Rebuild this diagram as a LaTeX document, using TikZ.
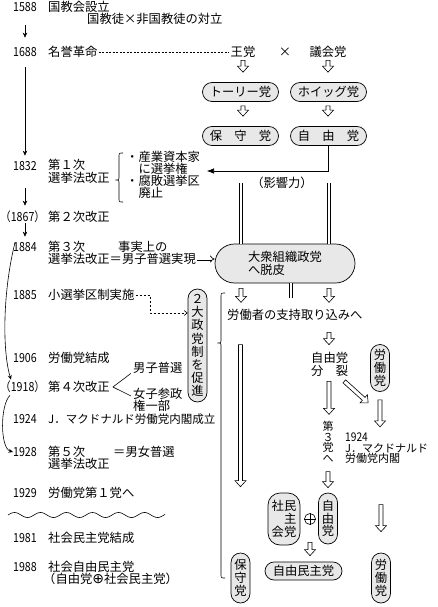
\documentclass[tikz,border=0pt]{standalone}
\usepackage{fontspec}
\setmainfont{Noto Sans CJK JP}
\newfontfamily\dejavufont{DejaVu Sans}
\newfontfamily\yrfont[FakeStretch=0.85]{Noto Sans CJK JP}
\usetikzlibrary{calc,arrows.meta}

\newcommand\hollowarr[2]{%
  \coordinate (ha) at #1;
  \coordinate (hb) at #2;
  \coordinate (hh) at ($(hb)!6pt!(ha)$);
  \draw[harrow] ($(ha)!2pt!90:(hb)$) -- ($(hh)!2pt!90:(hb)$) -- ($(hh)!5.5pt!90:(hb)$) -- (hb) -- ($(hh)!5.5pt!-90:(hb)$) -- ($(hh)!2pt!-90:(hb)$) -- ($(ha)!2pt!-90:(hb)$) -- cycle;}

\newcommand\vbrace[4]{%
  \draw[ln] (#1+4,#2) .. controls (#1,#2) .. (#1,#2+4) -- (#1,#3-4) .. controls (#1,#3) .. (#1-3.5,#3) .. controls (#1,#3) .. (#1,#3+4) -- (#1,#4-4) .. controls (#1,#4) .. (#1+4,#4);}

\begin{document}
\begin{tikzpicture}[x=1pt,y=-1pt,
  ln/.style={line width=0.6pt},
  tl/.style={line width=0.6pt,-{Stealth[length=5pt,width=4.5pt]}},
  txt/.style={inner sep=0pt,anchor=west,text height=10.8pt,text depth=1.5pt,font=\fontsize{12.3}{13}\selectfont},
  yr/.style={txt,font=\yrfont\fontsize{12.5}{13}\selectfont},
  rtxt/.style={txt,font=\fontsize{11}{11}\selectfont},
  mtxt/.style={inner sep=0pt,align=left,font=\fontsize{12.3}{12}\selectfont},
  pillbase/.style={draw,line width=0.7pt,fill=gray!18,inner sep=0pt},
  hpill/.style={pillbase,rounded corners=9.5pt,minimum width=76pt,minimum height=19pt,font=\fontsize{12.3}{13}\selectfont},
  vpill/.style={pillbase,rounded corners=9.5pt,minimum width=19pt,align=center,font=\fontsize{12.3}{13}\selectfont},
  harrow/.style={draw,fill=white,line width=0.6pt,line join=miter},
  dbl/.style={draw=black,double=white,double distance=1.6pt,line width=0.8pt},
]
\fill[white] (0,0) rectangle (437,607);
\useasboundingbox (0,0) rectangle (437,607);

% ---------- left column ----------
\node[yr] (y1588) at (13,7) {1588};
\node[txt] (e1588) at (48,7) {国教会設立};
\node[txt] (e1588b) at (87,19) {国教徒×非国教徒の対立};
\node[yr] (y1688) at (13,52) {1688};
\node[txt] (e1688) at (48,52) {名誉革命};
\node[yr] (y1832) at (13,166) {1832};
\node[txt] (e1832a) at (48,165) {第１次};
\node[txt] (e1832b) at (48,178) {選挙法改正};
\node[mtxt,anchor=west] (bl) at (126,175) {・産業資本家\\　に選挙権\\・腐敗選挙区\\　廃止};
\node[yr] (y1867) at (0,217) {（1867）};
\node[txt] (e1867) at (48,217) {第２次改正};
\node[yr] (y1884) at (13,247) {1884};
\node[txt] (e1884a) at (48,247) {第３次};
\node[txt] (e1884c) at (118,247) {事実上の};
\node[txt] (e1884b) at (48,259) {選挙法改正＝男子普選実現};
\node[yr] (y1885) at (13,295) {1885};
\node[txt] (e1885) at (48,295) {小選挙区制実施};
\node[yr] (y1906) at (13,358) {1906};
\node[txt] (e1906) at (48,358) {労働党結成};
\node[yr] (y1918) at (0,387) {（1918）};
\node[txt] (e1918) at (48,387) {第４次改正};
\node[txt] (danshi) at (133,368) {男子普選};
\node[mtxt,anchor=north west] (joshi) at (133,388) {女子参政\\権一部};
\node[yr] (y1924) at (13,419) {1924};
\node[txt,font=\fontsize{11.5}{12}\selectfont] (e1924) at (48,419) {J．マクドナルド労働党内閣成立};
\node[yr] (y1928) at (13,452) {1928};
\node[txt] (e1928a) at (48,452) {第５次};
\node[txt] (e1928c) at (113,452) {＝男女普選};
\node[txt] (e1928b) at (48,464) {選挙法改正};
\node[yr] (y1929) at (13,493) {1929};
\node[txt] (e1929) at (48,493) {労働党第１党へ};
\node[yr] (y1981) at (13,538) {1981};
\node[txt] (e1981) at (48,538) {社会民主党結成};
\node[yr] (y1988) at (13,567) {1988};
\node[txt] (e1988a) at (48,567) {社会自由民主党};
\node[txt] (e1988b) at (43,579) {（自由党{\dejavufont\fontsize{14}{14}\selectfont ⊕}社会民主党）};

% timeline arrows
\draw[tl] ($(y1588.south)+(0,12)$) -- ($(y1688.north)+(0,-8)$);
\draw[tl] ($(y1688.south)+(0,9)$) -- ($(y1832.north)+(0,-4)$);
\draw[tl] ($(y1832.south)+(0,16)$) -- ($(y1867.north -| y1832.south)+(0,-5)$);
\draw[tl] (y1867.south -| y1832.south) -- ($(y1884.north)+(0,-4)$);
\draw[ln,-{Stealth[length=4.5pt,width=4pt]}] ($(y1884.north west)+(2,2)$) .. controls (3,290) and (2,350) .. ($(y1918.north west)+(11,-1)$);
\draw[ln,-{Stealth[length=4.5pt,width=4pt]}] ($(y1918.south west)+(10,2)$) .. controls (0,405) and (0,448) .. (y1928.west);
\vbrace{119}{153}{180}{202}
\draw[ln] ($(e1918.east)+(3,0)$) -- ($(danshi.south west)+(-2,-1)$);
\draw[ln] ($(e1918.east)+(3,0)$) -- ($(joshi.north west)+(-2,8)$);
\draw[ln] plot[domain=0:157,samples=120,smooth] (\x+8,{515-2.5*sin(\x*13.846)});

% ---------- upper right ----------
\node[txt,anchor=center] (wang) at (243,52) {王党};
\node[txt,anchor=center] (cross) at (285,52) {×};
\node[txt,anchor=center] (gikai) at (328,52) {議会党};
\draw[ln,dash pattern=on 2pt off 1.5pt] ($(e1688.east)+(1,0)$) -- ($(wang.west)+(-2,0)$);
\node[hpill] (tory) at (240.5,92) {トーリー党};
\node[hpill] (whig) at (328.5,92) {ホイッグ党};
\node[hpill] (hoshu1) at (240.5,136) {保　守　党};
\node[hpill] (jiyu1) at (328.5,136) {自　由　党};
\hollowarr{($(wang.south)+(0,2)$)}{($(tory.north -| wang)+(0,-10)$)}
\hollowarr{($(gikai.south)+(0,2)$)}{($(whig.north -| gikai)+(0,-10)$)}
\hollowarr{($(tory.south -| wang)+(0,4)$)}{($(hoshu1.north -| wang)+(0,-10)$)}
\hollowarr{($(whig.south -| gikai)+(0,4)$)}{($(jiyu1.north -| gikai)+(0,-10)$)}
\coordinate (inftip) at (207,171);
\draw[ln,-{Latex[length=7pt,width=5.5pt]}] (jiyu1.south) |- (inftip);
\node[txt,anchor=center] (eik) at (282,183) {（影響力）};

\node[pillbase,rounded corners=19.5pt,minimum width=140pt,minimum height=39pt,align=left,font=\fontsize{12.3}{12.5}\selectfont] (big) at (285,263.5) {大衆組織政党\\へ脱皮};
\coordinate (dA) at (241,183);
\coordinate (dB) at (329,183);
\draw[dbl] (dA) -- (dA |- big.north);
\draw[dbl] (dB) -- (dB |- big.north);
\draw[draw=black,double=white,double distance=1.6pt,line width=0.7pt,-{Implies}] ($(e1884b.east)+(1,0)$) -- (e1884b.east -| big.west);

% dashed to 2-party box
\node[vpill,minimum height=113pt,font=\fontsize{12.3}{13.2}\selectfont] (two) at (197.5,345.5) {２\\大\\政\\党\\制\\を\\促\\進};
\coordinate (dk) at (150,313);
\draw[ln,dash pattern=on 2.5pt off 1.5pt,-{Straight Barb[length=3pt,width=5pt]}] ($(e1885.east)+(1,0)$) -| (dk) -- (dk -| two.west);
\vbrace{221}{293}{343}{578}

% ---------- lower right ----------
\hollowarr{($(big.south -| dA)+(0,5)$)}{($(big.south -| dA)+(0,19)$)}
\hollowarr{($(big.south -| dB)+(0,5)$)}{($(big.south -| dB)+(0,19)$)}
\draw[dbl] ($(big.south)+(6,0)$) -- ++(0,15);
\node[txt] (rodo) at (227,315) {労働者の支持取り込みへ};
\node[txt] (jbun) at (311,358) {自由党};
\node[txt] (jbun2) at (311,371) {分　裂};
\hollowarr{($(rodo.south -| dB)+(0,11)$)}{($(jbun.north -| dB)+(0,-7)$)}
\node[vpill,minimum height=47pt] (rodo1) at (380,368) {労\\働\\党};
\hollowarr{($(jbun2.south -| dB)+(0,4)$)}{($(jbun2.south -| dB)+(0,37)$)}
\hollowarr{($(jbun2.south east)+(-4,4)$)}{($(rodo1.south west)+(-2,11)$)}
\hollowarr{($(rodo1.south)+(0,8)$)}{($(rodo1.south)+(0,35)$)}
\node[mtxt,align=center,font=\fontsize{11}{10.5}\selectfont] (dai3) at (328,442) {第\\３\\党\\へ};
\node[rtxt,font=\yrfont\fontsize{12}{12}\selectfont] (mac1) at (345,437) {1924};
\node[rtxt] (mac2) at (345,447.5) {J．マクドナルド};
\node[rtxt] (mac3) at (345,458) {労働党内閣};

\node[vpill,minimum width=32pt,minimum height=52pt,rounded corners=12pt,font=\fontsize{12.3}{12.8}\selectfont] (shamin) at (284,519) {社民\\　主\\会党};
\node[draw,circle,line width=0.6pt,minimum size=11pt,inner sep=0pt] (plus) at (310,519) {};
\draw[ln] (plus.north) -- (plus.south) (plus.west) -- (plus.east);
\node[vpill,minimum height=51pt,font=\fontsize{12.3}{12.5}\selectfont] (jiyu2) at (328,518.5) {自\\由\\党};
\hollowarr{($(dai3.south)+(0,9)$)}{($(jiyu2.north)+(0,-5)$)}
\node[hpill,minimum width=77pt,minimum height=18pt,rounded corners=9pt] (jimin) at (303.5,571) {自由民主党};
\hollowarr{($(jiyu2.south -| plus)+(0,-2)$)}{($(jimin.north -| plus)+(0,-6)$)}
\node[vpill,minimum height=50pt] (hoshu2) at (240.5,578) {保\\守\\党};
\node[vpill,minimum height=50pt] (rodo2) at (381,578) {労\\働\\党};
\hollowarr{($(hoshu2.north)+(0,-208)$)}{($(hoshu2.north)+(0,-66)$)}
\hollowarr{($(rodo2.north)+(0,-48)$)}{($(rodo2.north)+(0,-21)$)}
\end{tikzpicture}
\end{document}
